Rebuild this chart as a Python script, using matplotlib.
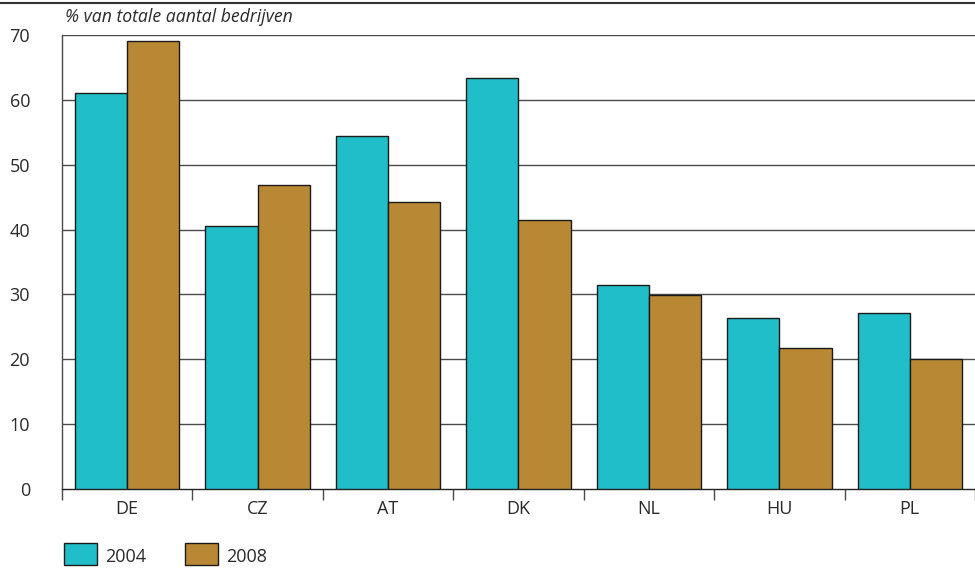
import matplotlib
matplotlib.use("Agg")
import matplotlib.pyplot as plt
import numpy as np
from matplotlib.patches import Rectangle
from matplotlib.lines import Line2D

categories = ["DE", "CZ", "AT", "DK", "NL", "HU", "PL"]
series_names = ["2004", "2008"]
values_2004 = [61.0, 40.6, 54.4, 63.3, 31.5, 26.4, 27.1]
values_2008 = [69.0, 46.9, 44.2, 41.4, 29.9, 21.8, 20.0]
yticks = [0, 10, 20, 30, 40, 50, 60, 70]

c2004 = "#20BEC8"
c2008 = "#B88834"
grid_c = "#4a4a4a"
txt_c = "#2a2a2a"

plt.rcParams['font.family'] = ['Open Sans', 'DejaVu Sans']

fig = plt.figure(figsize=(9.75, 5.68), dpi=100)
ax = fig.add_axes([62/975, 79/568, 1 - 62/975, (489-35)/568])

x = np.arange(len(categories))
w = 0.4
ax.bar(x - w/2, values_2004, width=w, color=c2004, edgecolor="#1a1a1a", linewidth=1.0, zorder=3)
ax.bar(x + w/2, values_2008, width=w, color=c2008, edgecolor="#1a1a1a", linewidth=1.0, zorder=3)

ax.set_xlim(-0.5, len(categories) - 0.5)
ax.set_ylim(0, 70)
ax.set_yticks(yticks)
ax.set_yticklabels([str(t) for t in yticks], fontsize=13, color=txt_c)
ax.tick_params(axis='y', length=0, pad=23)
for t in yticks[1:]:
    ax.axhline(t, color=grid_c, linewidth=1.0, zorder=1)

ax.set_xticks(x)
ax.set_xticklabels(categories, fontsize=13, color=txt_c)
ax.tick_params(axis='x', which='major', length=0, pad=8)
ax.set_xticks(np.arange(-0.5, len(categories) - 0.4, 1.0), minor=True)
ax.tick_params(axis='x', which='minor', length=8, width=1, color=grid_c, direction='out')

for s in ['top', 'right']:
    ax.spines[s].set_visible(False)
ax.spines['left'].set_color(grid_c)
ax.spines['bottom'].set_color("#222222")
ax.spines['left'].set_linewidth(1.0)
ax.spines['bottom'].set_linewidth(1.0)

# top rule
fig.add_artist(Line2D([0, 1], [1 - 3/568, 1 - 3/568], color="#333333", linewidth=1.5, transform=fig.transFigure))

fig.text(65/975, 1 - 17/568, "% van totale aantal bedrijven", fontsize=12.7, style='italic',
         color=txt_c, va='center', ha='left')

# legend
for i, (name, col) in enumerate(zip(series_names, [c2004, c2008])):
    x0 = [64, 185][i]
    fig.add_artist(Rectangle((x0/975, 1 - 565/568), 33/975, 22/568, transform=fig.transFigure,
                             facecolor=col, edgecolor="#1a1a1a", linewidth=1.0))
    fig.text((x0 + 41)/975, 1 - 557/568, name, fontsize=13, color=txt_c, va='center', ha='left')

fig.savefig("out.png", dpi=100)
